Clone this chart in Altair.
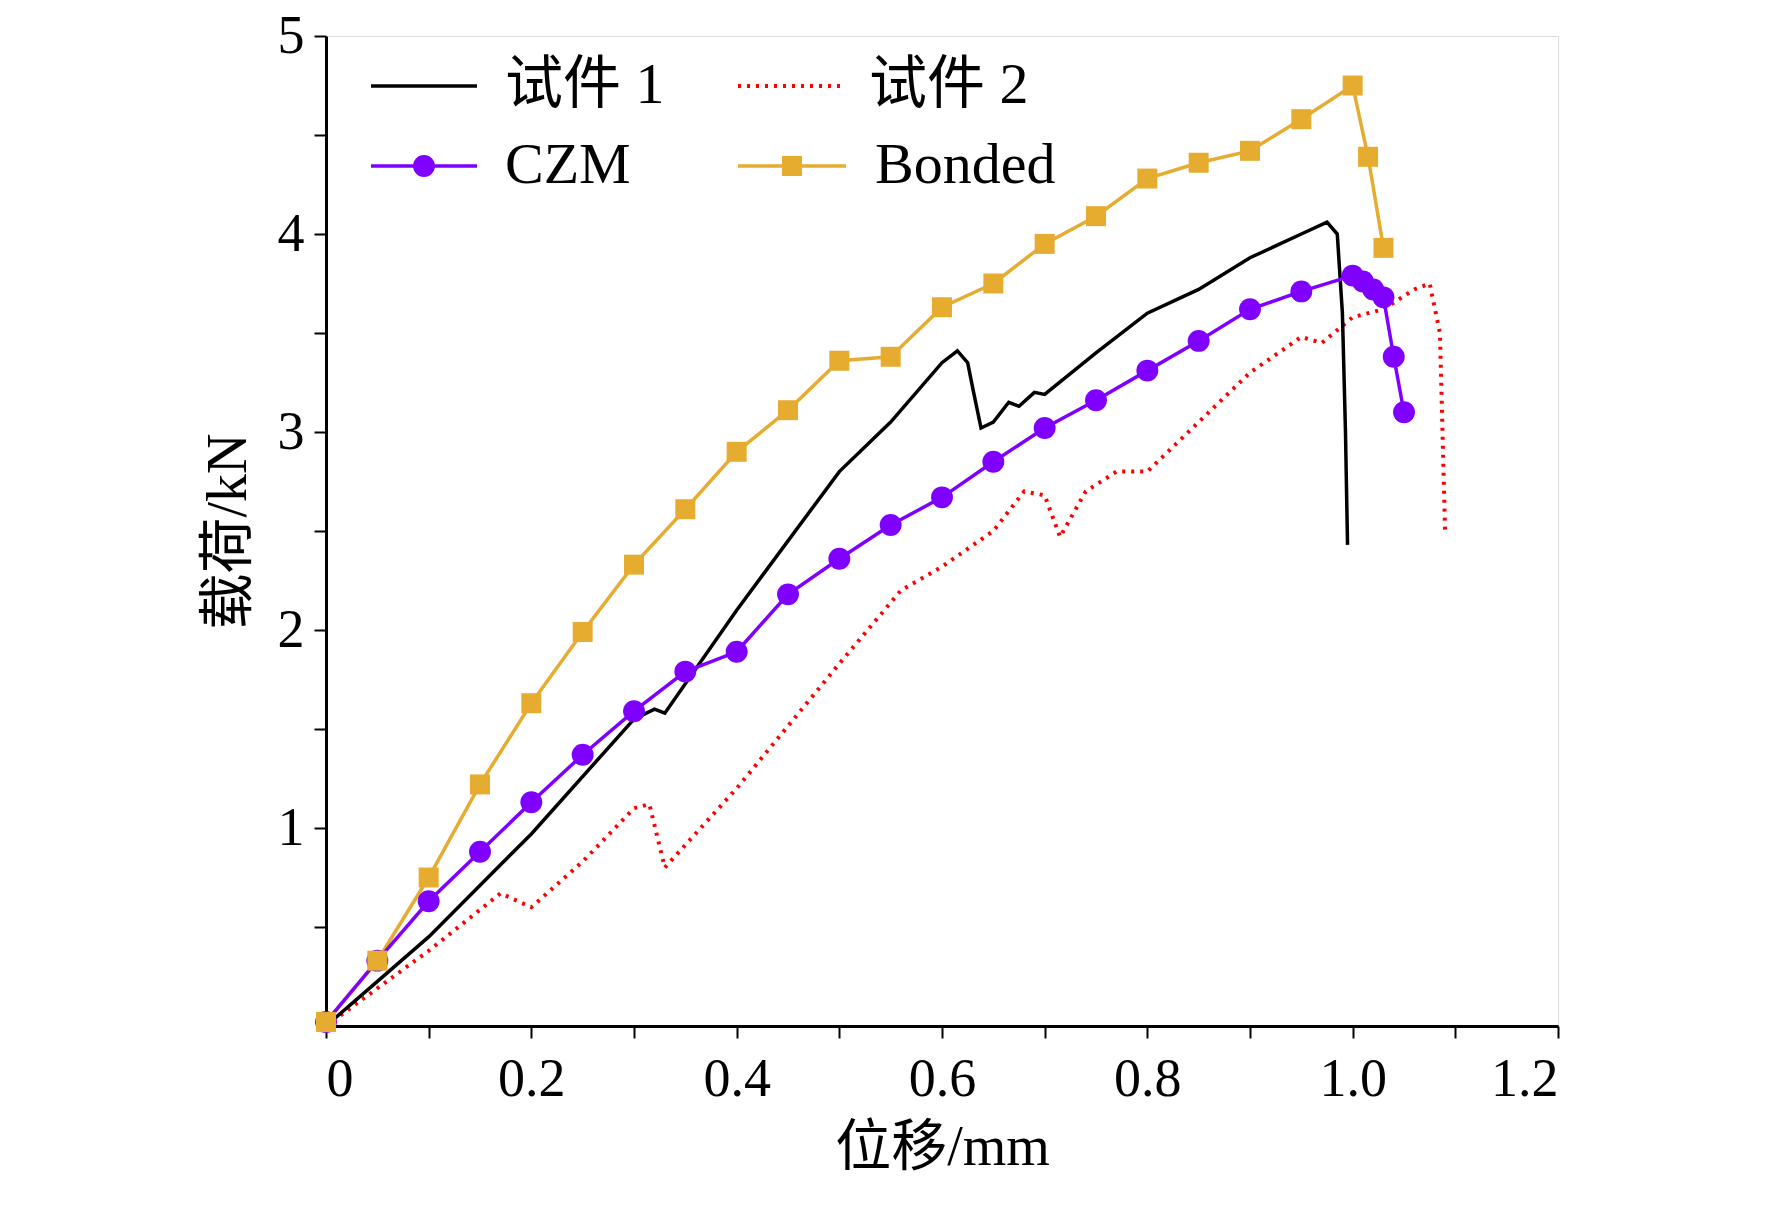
import pandas as pd
import altair as alt

FONT = "Liberation Serif, Noto Sans CJK SC"

# 试件 1 (test)
s1_x = [0, 0.1, 0.2, 0.3, 0.32, 0.33, 0.4, 0.5, 0.55, 0.6, 0.615, 0.625, 0.63, 0.638, 0.65, 0.665, 0.675,
        0.69, 0.7, 0.75, 0.8, 0.85, 0.9, 0.95, 0.975, 0.985, 0.99, 0.993, 0.995]
s1_y = [0, 0.45, 0.97, 1.55, 1.6, 1.58, 2.1, 2.8, 3.05, 3.35, 3.41, 3.35, 3.22, 3.02, 3.05, 3.15, 3.13,
        3.2, 3.19, 3.4, 3.6, 3.72, 3.88, 4.0, 4.06, 4.0, 3.6, 3.0, 2.43]
# 试件 2 (test)
s2_x = [0, 0.1, 0.17, 0.2, 0.25, 0.3, 0.315, 0.33, 0.4, 0.5, 0.56, 0.6, 0.65, 0.68, 0.7, 0.715, 0.74,
        0.77, 0.8, 0.85, 0.9, 0.95, 0.97, 1.0, 1.03, 1.06, 1.075, 1.085, 1.09]
s2_y = [0, 0.38, 0.67, 0.6, 0.83, 1.1, 1.12, 0.8, 1.2, 1.83, 2.2, 2.32, 2.5, 2.7, 2.68, 2.47, 2.7,
        2.8, 2.8, 3.05, 3.3, 3.48, 3.45, 3.58, 3.62, 3.72, 3.75, 3.5, 2.5]
# CZM
czm_x = [0, 0.05, 0.1, 0.15, 0.2, 0.25, 0.3, 0.35, 0.4, 0.45, 0.5, 0.55, 0.6, 0.65, 0.7, 0.75, 0.8,
         0.85, 0.9, 0.95, 1.0, 1.01, 1.02, 1.03, 1.04, 1.05]
czm_y = [0.02, 0.33, 0.63, 0.88, 1.13, 1.37, 1.59, 1.79, 1.89, 2.18, 2.36, 2.53, 2.67, 2.85, 3.02, 3.16,
         3.31, 3.46, 3.62, 3.71, 3.79, 3.76, 3.72, 3.68, 3.38, 3.1]
# Bonded
bon_x = [0, 0.05, 0.1, 0.15, 0.2, 0.25, 0.3, 0.35, 0.4, 0.45, 0.5, 0.55, 0.6, 0.65, 0.7, 0.75, 0.8,
         0.85, 0.9, 0.95, 1.0, 1.015, 1.03]
bon_y = [0.02, 0.33, 0.75, 1.22, 1.63, 1.99, 2.33, 2.61, 2.9, 3.11, 3.36, 3.38, 3.63, 3.75, 3.95, 4.09,
         4.28, 4.36, 4.42, 4.58, 4.75, 4.39, 3.93]

x_ticks = [round(i * 0.1, 1) for i in range(13)]
y_ticks = [round(i * 0.5, 1) for i in range(1, 11)]

X = alt.X("x:Q", scale=alt.Scale(domain=[0, 1.2], nice=False),
          axis=alt.Axis(values=x_ticks, title="位移/mm", grid=False, domainColor="black", domainWidth=3,
                        tickColor="black", tickWidth=2, tickSize=12, labelFontSize=54, titleFontSize=56,
                        labelFont=FONT, titleFont=FONT, labelColor="black", titleColor="black",
                        labelPadding=14, titlePadding=14, titleFontWeight="normal",
                        labelExpr="datum.value == 0 ? '0' : (round(datum.value * 10) % 2 == 0 ? format(datum.value, '.1f') : '')"))
Y = alt.Y("y:Q", scale=alt.Scale(domain=[0, 5], nice=False),
          axis=alt.Axis(values=y_ticks, title="载荷/kN", grid=False, domainColor="black", domainWidth=3,
                        tickColor="black", tickWidth=2, tickSize=12, labelFontSize=54, titleFontSize=56,
                        labelFont=FONT, titleFont=FONT, labelColor="black", titleColor="black",
                        labelPadding=10, titlePadding=20, titleFontWeight="normal",
                        labelExpr="datum.value % 1 == 0 ? format(datum.value, 'd') : ''"))

def df(xs, ys):
    return pd.DataFrame({"x": xs, "y": ys})

purple = "#8000ff"
gold = "#e6ac30"

l1 = alt.Chart(df(s1_x, s1_y)).mark_line(color="black", strokeWidth=3.5).encode(X, Y)
l2 = alt.Chart(df(s2_x, s2_y)).mark_line(color="#ff0000", strokeWidth=4, strokeDash=[3, 6]).encode(X, Y)
cz_l = alt.Chart(df(czm_x, czm_y)).mark_line(color=purple, strokeWidth=3.5).encode(X, Y)
cz_p = alt.Chart(df(czm_x, czm_y)).mark_point(color=purple, filled=True, opacity=1, size=480, shape="circle").encode(X, Y)
bo_l = alt.Chart(df(bon_x, bon_y)).mark_line(color=gold, strokeWidth=3.5).encode(X, Y)
bo_p = alt.Chart(df(bon_x, bon_y)).mark_point(color=gold, filled=True, opacity=1, size=400, shape="square").encode(X, Y)

# legend drawn in pixel space
one = pd.DataFrame({"a": [0]})
def leg_line(x0, x1, yy, **kw):
    return alt.Chart(one).mark_rule(**kw).encode(x=alt.value(x0), x2=alt.value(x1), y=alt.value(yy))
def leg_pt(xx, yy, **kw):
    return alt.Chart(one).mark_point(filled=True, opacity=1, **kw).encode(x=alt.value(xx), y=alt.value(yy))
def leg_txt(xx, yy, t):
    return alt.Chart(one).mark_text(text=t, font=FONT, fontSize=58, align="left", baseline="middle",
                                    color="black").encode(x=alt.value(xx), y=alt.value(yy))

legend = [
    leg_line(45, 151, 50, color="black", strokeWidth=3.5), leg_txt(179, 50, "试件 1"),
    leg_line(412, 520, 50, color="#ff0000", strokeWidth=4, strokeDash=[3, 6]), leg_txt(543, 50, "试件 2"),
    leg_line(45, 151, 130, color=purple, strokeWidth=3.5), leg_pt(98, 130, color=purple, size=480, shape="circle"),
    leg_txt(179, 130, "CZM"),
    leg_line(412, 520, 130, color=gold, strokeWidth=3.5), leg_pt(466, 130, color=gold, size=400, shape="square"),
    leg_txt(549, 130, "Bonded"),
]

chart = alt.layer(bo_l, l2, l1, cz_l, cz_p, bo_p, *legend).properties(
    width=1232, height=990, autosize=alt.AutoSizeParams(type="none"),
    padding={"left": 318, "top": 28, "right": 200, "bottom": 190},
).configure_view(stroke=None, strokeWidth=0).configure(background="white")

chart.save("out.html", embed_options={"renderer": "svg", "actions": False})
